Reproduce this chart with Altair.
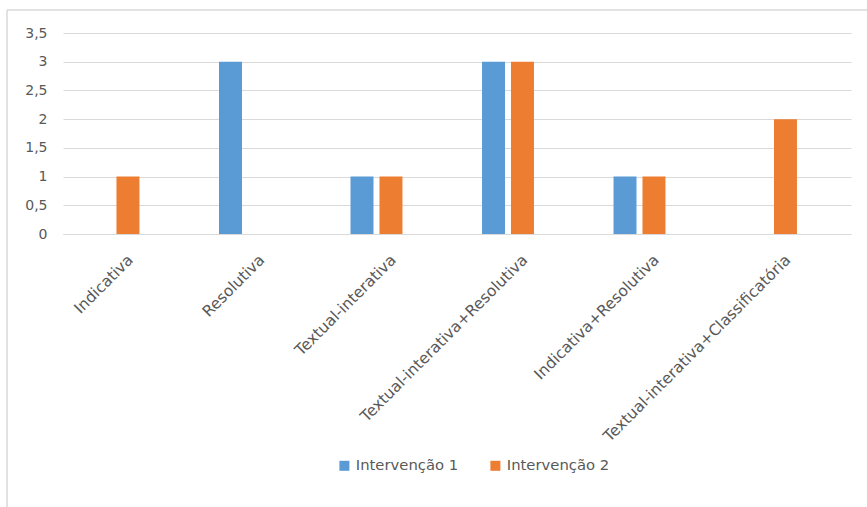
import altair as alt
import pandas as pd

categories = [
    "Indicativa",
    "Resolutiva",
    "Textual-interativa",
    "Textual-interativa+Resolutiva",
    "Indicativa+Resolutiva",
    "Textual-interativa+Classificatória",
]
series_names = ["Intervenção 1", "Intervenção 2"]
intervencao_1 = [0, 3, 1, 3, 1, 0]
intervencao_2 = [1, 0, 1, 3, 1, 2]
y_ticks = [0, 0.5, 1, 1.5, 2, 2.5, 3, 3.5]
colors = ["#5B9BD5", "#ED7D31"]

rows = []
for c, a, b in zip(categories, intervencao_1, intervencao_2):
    rows.append({"categoria": c, "serie": series_names[0], "valor": a})
    rows.append({"categoria": c, "serie": series_names[1], "valor": b})
df = pd.DataFrame(rows)

FONT = "DejaVu Sans"
TXT = "#595959"
GRID = "#D9D9D9"

bars = alt.Chart(df).mark_bar().encode(
    x=alt.X(
        "categoria:N",
        sort=categories,
        title=None,
        scale=alt.Scale(paddingInner=0.605, paddingOuter=0.2986, align=0.312, round=False),
        axis=alt.Axis(
            labelAngle=-45,
            labelAlign="right",
            labelBaseline="top",
            labelOffset=12,
            labelPadding=18,
            labelFont=FONT,
            labelFontSize=15.5,
            labelColor=TXT,
            ticks=False,
            domainColor=GRID,
            labelLimit=400,
        ),
    ),
    xOffset=alt.XOffset(
        "serie:N",
        sort=series_names,
        scale=alt.Scale(paddingInner=0.207, paddingOuter=0),
    ),
    y=alt.Y(
        "valor:Q",
        title=None,
        scale=alt.Scale(domain=[0, 3.5], nice=False),
        axis=alt.Axis(
            values=y_ticks,
            labelExpr="replace(toString(datum.value), '.', ',')",
            labelFont=FONT,
            labelFontSize=14,
            labelColor=TXT,
            labelPadding=16,
            ticks=False,
            domain=False,
            gridColor=GRID,
        ),
    ),
    color=alt.Color(
        "serie:N",
        sort=series_names,
        scale=alt.Scale(domain=series_names, range=colors),
        legend=alt.Legend(
            title=None,
            orient="none",
            direction="horizontal",
            legendX=274,
            legendY=425,
            symbolType="square",
            symbolSize=100,
            symbolStrokeWidth=0,
            labelFont=FONT,
            labelFontSize=14.8,
            labelColor=TXT,
            labelOffset=4,
            columnPadding=29,
        ),
    ),
)

frame_df = pd.DataFrame({"k": [0]})
frame_left = alt.Chart(frame_df).mark_rule(color=GRID, strokeWidth=1.5).encode(
    x=alt.value(-56), y=alt.value(-23), y2=alt.value(474)
)
frame_top = alt.Chart(frame_df).mark_rule(color=GRID, strokeWidth=1.5).encode(
    x=alt.value(-56), x2=alt.value(804), y=alt.value(-23)
)

chart = (
    alt.layer(frame_left, frame_top, bars)
    .properties(
        width=788,
        height=201,
        autosize=alt.AutoSizeParams(type="none"),
        padding={"left": 63, "top": 33, "right": 16, "bottom": 273},
        background="white",
    )
    .configure_view(stroke=None)
)

chart.save("out.html", embed_options={"renderer": "svg", "actions": False})
